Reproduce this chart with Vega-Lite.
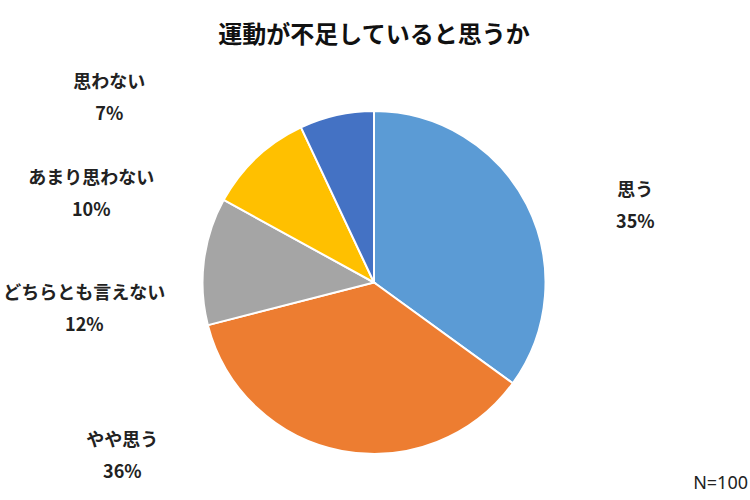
{
  "$schema": "https://vega.github.io/schema/vega-lite/v6.json",
  "width": 748,
  "height": 435,
  "autosize": {"type": "none"},
  "padding": {"top": 65, "left": 0, "right": 2, "bottom": 0},
  "background": "white",
  "config": {"view": {"stroke": null}},
  "title": {
    "text": "運動が不足していると思うか",
    "font": "Noto Sans CJK JP",
    "fontSize": 24,
    "fontWeight": "bold",
    "color": "#111111",
    "anchor": "middle",
    "offset": 17
  },
  "layer": [
    {
      "data": {
        "values": [
          {"answer": "思う", "pct": 35, "rank": 1},
          {"answer": "やや思う", "pct": 36, "rank": 2},
          {"answer": "どちらとも言えない", "pct": 12, "rank": 3},
          {"answer": "あまり思わない", "pct": 10, "rank": 4},
          {"answer": "思わない", "pct": 7, "rank": 5}
        ]
      },
      "transform": [
        {"stack": "pct", "groupby": [], "sort": [{"field": "rank", "order": "ascending"}], "as": ["p0", "p1"]},
        {"calculate": "datum.answer + '\\n' + datum.pct + '%'", "as": "label"}
      ],
      "encoding": {
        "theta": {"field": "p0", "type": "quantitative", "scale": {"domain": [0, 100]}}
      },
      "layer": [
        {
          "mark": {"type": "arc", "outerRadius": 171.5, "stroke": "white", "strokeWidth": 2},
          "encoding": {
            "theta2": {"field": "p1"},
            "color": {
              "field": "answer",
              "type": "nominal",
              "scale": {
                "domain": ["思う", "やや思う", "どちらとも言えない", "あまり思わない", "思わない"],
                "range": ["#5B9BD5", "#ED7D31", "#A5A5A5", "#FFC000", "#4472C4"]
              },
              "legend": null
            }
          }
        },
        {
          "transform": [{"filter": "datum.answer === '思う'"}],
          "mark": {"type": "text", "radius": 272, "thetaOffset": 1.29, "dy": -16, "lineBreak": "\n", "lineHeight": 32, "font": "Noto Sans CJK JP", "fontSize": 18, "fontWeight": "bold", "color": "#222222", "align": "center", "baseline": "middle"},
          "encoding": {"text": {"field": "label", "type": "nominal"}}
        },
        {
          "transform": [{"filter": "datum.answer === 'やや思う'"}],
          "mark": {"type": "text", "radius": 306, "thetaOffset": 1.908, "dy": -16, "lineBreak": "\n", "lineHeight": 32, "font": "Noto Sans CJK JP", "fontSize": 18, "fontWeight": "bold", "color": "#222222", "align": "center", "baseline": "middle"},
          "encoding": {"text": {"field": "label", "type": "nominal"}}
        },
        {
          "transform": [{"filter": "datum.answer === 'どちらとも言えない'"}],
          "mark": {"type": "text", "radius": 291, "thetaOffset": 0.157, "dy": -16, "lineBreak": "\n", "lineHeight": 32, "font": "Noto Sans CJK JP", "fontSize": 18, "fontWeight": "bold", "color": "#222222", "align": "center", "baseline": "middle"},
          "encoding": {"text": {"field": "label", "type": "nominal"}}
        },
        {
          "transform": [{"filter": "datum.answer === 'あまり思わない'"}],
          "mark": {"type": "text", "radius": 296, "thetaOffset": -0.202, "dy": -16, "lineBreak": "\n", "lineHeight": 32, "font": "Noto Sans CJK JP", "fontSize": 18, "fontWeight": "bold", "color": "#222222", "align": "center", "baseline": "middle"},
          "encoding": {"text": {"field": "label", "type": "nominal"}}
        },
        {
          "transform": [{"filter": "datum.answer === '思わない'"}],
          "mark": {"type": "text", "radius": 322, "thetaOffset": -0.525, "dy": -16, "lineBreak": "\n", "lineHeight": 32, "font": "Noto Sans CJK JP", "fontSize": 18, "fontWeight": "bold", "color": "#222222", "align": "center", "baseline": "middle"},
          "encoding": {"text": {"field": "label", "type": "nominal"}}
        }
      ]
    },
    {
      "data": {"values": [{"note": "N=100"}]},
      "mark": {"type": "text", "x": "width", "y": "height", "dy": -11, "align": "right", "baseline": "alphabetic", "font": "Noto Sans", "fontSize": 18, "color": "#222222"},
      "encoding": {"text": {"field": "note", "type": "nominal"}}
    }
  ]
}
